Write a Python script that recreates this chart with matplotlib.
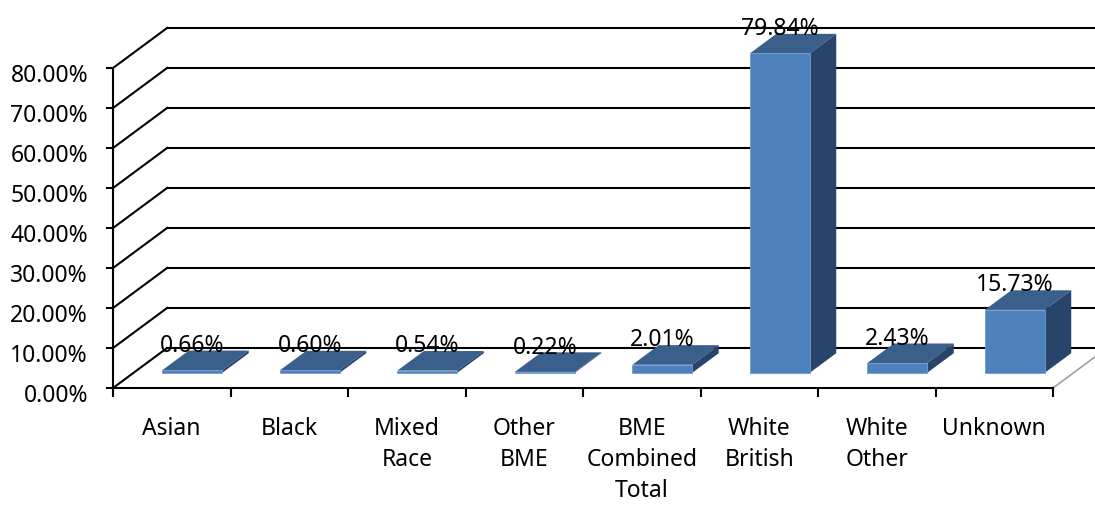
import matplotlib
matplotlib.use("Agg")
import matplotlib.pyplot as plt
from matplotlib.patches import Polygon, Rectangle
from matplotlib.transforms import ScaledTranslation

plt.rcParams['font.family'] = ['Noto Sans', 'DejaVu Sans']

categories = ["Asian", "Black", "Mixed\nRace", "Other\nBME", "BME\nCombined\nTotal",
              "White\nBritish", "White\nOther", "Unknown"]
percent = [0.66, 0.60, 0.54, 0.22, 2.01, 79.84, 2.43, 15.73]
yticks = [0, 10, 20, 30, 40, 50, 60, 70, 80]

# oblique depth offset (x in category units, y in percent units)
DX, DY = 0.46, 10.0
Z0, Z1 = 0.38, 0.87      # bar depth range
W = 0.51                  # bar width

front_col = '#4F81BD'
top_col = '#3A5F8B'
side_col = '#28446A'

fig = plt.figure(figsize=(10.95, 5.05), dpi=100)
ax = fig.add_axes([113 / 1095, 117 / 505, 982 / 1095, 388 / 505])
ax.set_xlim(0, 982 / 117.5)
ax.set_ylim(0, 97)

# back wall gridlines and the side wall diagonals
for v in yticks:
    ax.plot([DX, 20], [v + DY, v + DY], color='black', lw=1.5, zorder=1)
    ax.plot([0, DX], [v, v + DY], color='black', lw=1.5, zorder=1, clip_on=False)
# right floor edge
ax.plot([len(categories), len(categories) + DX], [0, DY], color='#A0A0A0', lw=1.2, zorder=1)

for i, v in enumerate(percent):
    x0 = i + 0.5 - W / 2 + DX * Z0
    x1 = x0 + W
    y0 = DY * Z0
    d = Z1 - Z0
    ax.add_patch(Polygon([(x0, y0 + v), (x1, y0 + v), (x1 + DX * d, y0 + v + DY * d),
                          (x0 + DX * d, y0 + v + DY * d)], closed=True,
                         facecolor=top_col, edgecolor='none', zorder=3))
    ax.add_patch(Polygon([(x1, y0), (x1, y0 + v), (x1 + DX * d, y0 + v + DY * d),
                          (x1 + DX * d, y0 + DY * d)], closed=True,
                         facecolor=side_col, edgecolor='none', zorder=3))
    ax.add_patch(Rectangle((x0, y0), W, v, facecolor=front_col,
                           edgecolor='#6F9BD0', lw=0.6, zorder=4))
    ax.text((x0 + x1) / 2, v + DY * Z1 + 1.2, f"{v:.2f}%", ha='center', va='center',
            fontsize=16.5, zorder=6, clip_on=False)

for s in ['top', 'right']:
    ax.spines[s].set_visible(False)
ax.spines['left'].set_bounds(0, 80)
ax.spines['bottom'].set_bounds(0, len(categories))
for s in ['left', 'bottom']:
    ax.spines[s].set_linewidth(1.5)
    ax.spines[s].set_zorder(5)

ax.set_yticks(yticks)
ax.set_yticklabels([f"{t:.2f}%" for t in yticks], fontsize=16.5)
ax.tick_params(axis='y', direction='out', length=5, width=1.5, pad=13)
shift = ScaledTranslation(0, -0.05, fig.dpi_scale_trans)
for lab in ax.get_yticklabels():
    lab.set_transform(lab.get_transform() + shift)

ax.set_xticks(range(len(categories) + 1))
ax.set_xticklabels([])
ax.set_xticks([i + 0.5 for i in range(len(categories))], minor=True)
ax.set_xticklabels(categories, minor=True, fontsize=16.5, linespacing=1.38)
ax.tick_params(axis='x', which='major', direction='out', length=6.5, width=1.5)
ax.tick_params(axis='x', which='minor', length=0, pad=21)

fig.savefig("out.png", dpi=100)
